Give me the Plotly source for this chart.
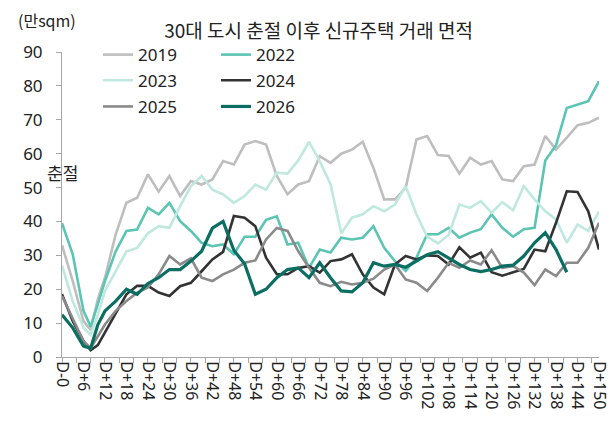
import plotly.graph_objects as go

days = [0, 3, 6, 8, 10] + list(range(12, 151, 3))

s2019 = [33, 22.4, 10.6, 8, 17, 23.4, 36.2, 45.5, 47, 53.9, 48.8, 53.4, 47.5, 51.9, 50.9, 52.4,
         57.8, 56.8, 62.7, 63.7, 62.7, 53.4, 48, 50.9, 51.9, 59.3, 57.3, 60, 61.2, 63.5, 55.8,
         46.5, 46.5, 49.9, 64.2, 65.2, 59.6, 59.3, 54.1, 58.8, 56.8, 57.8, 52.4, 51.9, 56.3,
         56.8, 65.2, 61.2, 64.7, 68.4, 69.1, 70.6]
s2022 = [39.5, 30.3, 13.6, 9, 15.5, 22.4, 31.2, 37.2, 37.6, 44, 42.1, 45.5, 40.1, 37.2, 33.7,
         32.7, 33.2, 30.3, 35.5, 35.5, 40.5, 41.5, 33.2, 33.7, 26.3, 31.7, 30.8, 35.2, 34.7,
         35.2, 38.6, 32.2, 28.3, 25.4, 29.3, 36.2, 36.2, 38.1, 35.2, 36.7, 37.7, 42.1, 38.1,
         35.5, 37.7, 38.1, 58, 62.5, 73.5, 74.5, 75.5, 81.4]
s2023 = [27, 16.5, 8.6, 6.5, 12.5, 19.5, 25.3, 31.2, 32.2, 36.5, 38.6, 38.1, 44.5, 50.4, 53.4,
         49.4, 48, 45.5, 47.5, 50.9, 49.4, 54.4, 54.1, 58, 63.5, 57.8, 51, 36.5, 41.1, 42.1,
         44.5, 43, 45, 50.4, 42.1, 35.5, 33.5, 36, 45, 44, 46, 42.6, 45.7, 43.3, 50.4, 46.5,
         43, 40.6, 33.7, 39.1, 37.2, 43]
s2024 = [18.5, 10.6, 4.7, 2.0, 3.5, 7.2, 12.6, 18.5, 21, 21, 19, 18, 20.9, 21.9, 25.3, 28.8,
         31, 41.6, 41.1, 38.6, 29.3, 24.4, 24.4, 26.3, 26.8, 24.9, 28.3, 28.8, 30.3, 24.4,
         20.5, 18.5, 27.3, 29.8, 28.8, 30, 29.8, 27.3, 32.4, 29.3, 30.8, 25, 24, 25, 26,
         31.7, 31.2, 39.6, 48.9, 48.7, 43, 31.7]
s2025 = [18, 11.6, 4.7, 2.6, 6.3, 9.6, 13.6, 16.5, 19, 20.5, 24.4, 29.8, 27.3, 29.1, 23.4,
         22.4, 24.4, 25.8, 27.8, 28.5, 34.7, 38.1, 37.2, 31.2, 26.3, 21.9, 20.9, 22.2, 21.4,
         21.9, 23.1, 25.8, 27.3, 22.9, 21.9, 19.5, 23.4, 27.8, 26.3, 28.5, 27.3, 31.5, 26.3,
         26.8, 24.9, 21.2, 25.8, 23.9, 27.8, 27.8, 32.2, 39.6]
s2026 = [12.5, 8.6, 3.2, 2.6, 9.5, 13.6, 16.5, 20, 18.5, 21.7, 23.4, 25.8, 25.8, 28.3, 31.2,
         38, 40, 31.5, 27.5, 18.5, 20, 23.4, 25.8, 26.3, 23.4, 27.8, 23.4, 19.5, 19.2, 21.9,
         27.8, 26.8, 27.3, 26.5, 28.3, 30.2, 31.1, 29.3, 27.3, 25.8, 25.2, 25.8, 26.8, 27.1,
         29.8, 33.7, 36.7, 31.7, 25.0, None, None, None]

series = [
    ("2019", s2019, "#BEBEBE", 2.6, "legend"),
    ("2022", s2022, "#5BC4B3", 2.6, "legend"),
    ("2023", s2023, "#BFE8DF", 2.6, "legend2"),
    ("2024", s2024, "#333333", 2.6, "legend2"),
    ("2025", s2025, "#8A8A8A", 2.6, "legend3"),
    ("2026", s2026, "#0B6E62", 3.2, "legend3"),
]

tick_days = list(range(0, 151, 6))
tick_text = ["D-0"] + [f"D+{d}" for d in tick_days[1:]]
minor_days = list(range(0, 151, 4))
y_ticks = list(range(0, 91, 10))

FONT = "Noto Sans, Noto Sans CJK KR, sans-serif"
KFONT = "Noto Sans CJK KR, Noto Sans, sans-serif"

fig = go.Figure()
for name, vals, color, width, lg in series:
    fig.add_trace(go.Scatter(x=days, y=vals, name=name, mode="lines",
                             line=dict(color=color, width=width),
                             legend=lg, connectgaps=False))
# empty helper trace so the tick-mark axis is drawn
fig.add_trace(go.Scatter(x=[0], y=[None], xaxis="x2", showlegend=False,
                         hoverinfo="skip", mode="lines"))

leg_common = dict(orientation="h", xanchor="left", yanchor="middle", x=0.067,
                  entrywidth=73, entrywidthmode="pixels",
                  font=dict(family=FONT, size=17, color="#222"),
                  bgcolor="rgba(0,0,0,0)", borderwidth=0, itemclick=False)

fig.update_layout(
    width=615, height=427,
    margin=dict(l=54, r=12, t=44, b=78, pad=0),
    plot_bgcolor="white", paper_bgcolor="white",
    title=dict(text="30대 도시 춘절 이후 신규주택 거래 면적", x=0.505, xanchor="center",
               y=1 - 23 / 427, yanchor="middle",
               font=dict(family=KFONT, size=19, color="#222")),
    legend=dict(**leg_common, y=0.990),
    legend2=dict(**leg_common, y=0.906),
    legend3=dict(**leg_common, y=0.820),
    xaxis=dict(range=[0, 150], tickmode="array", tickvals=tick_days, ticktext=tick_text,
               tickangle=90, ticks="", showline=True, linecolor="#A6A6A6", linewidth=1,
               showgrid=False, zeroline=False,
               tickfont=dict(family=FONT, size=16, color="#222")),
    xaxis2=dict(range=[0, 150], overlaying="x", side="bottom", anchor="y",
                tickmode="array", tickvals=minor_days, showticklabels=False,
                ticks="outside", ticklen=5, tickcolor="#A6A6A6",
                showline=False, showgrid=False, zeroline=False),
    yaxis=dict(range=[0, 90], tickmode="array", tickvals=y_ticks,
               ticks="outside", ticklen=5, tickcolor="#A6A6A6",
               showline=True, linecolor="#A6A6A6", linewidth=1, showgrid=False,
               zeroline=False, ticklabelstandoff=10,
               tickfont=dict(family=FONT, size=17, color="#222")),
    annotations=[
        dict(text="(만sqm)", xref="paper", yref="paper", x=-0.086, y=1.105,
             xanchor="left", yanchor="middle", showarrow=False,
             font=dict(family=KFONT, size=16, color="#222")),
        dict(text="춘절", xref="x", yref="y", x=0, y=54.5, xanchor="center",
             yanchor="middle", showarrow=False,
             font=dict(family=KFONT, size=17, color="#222")),
    ],
)

fig.write_html("out.html")
